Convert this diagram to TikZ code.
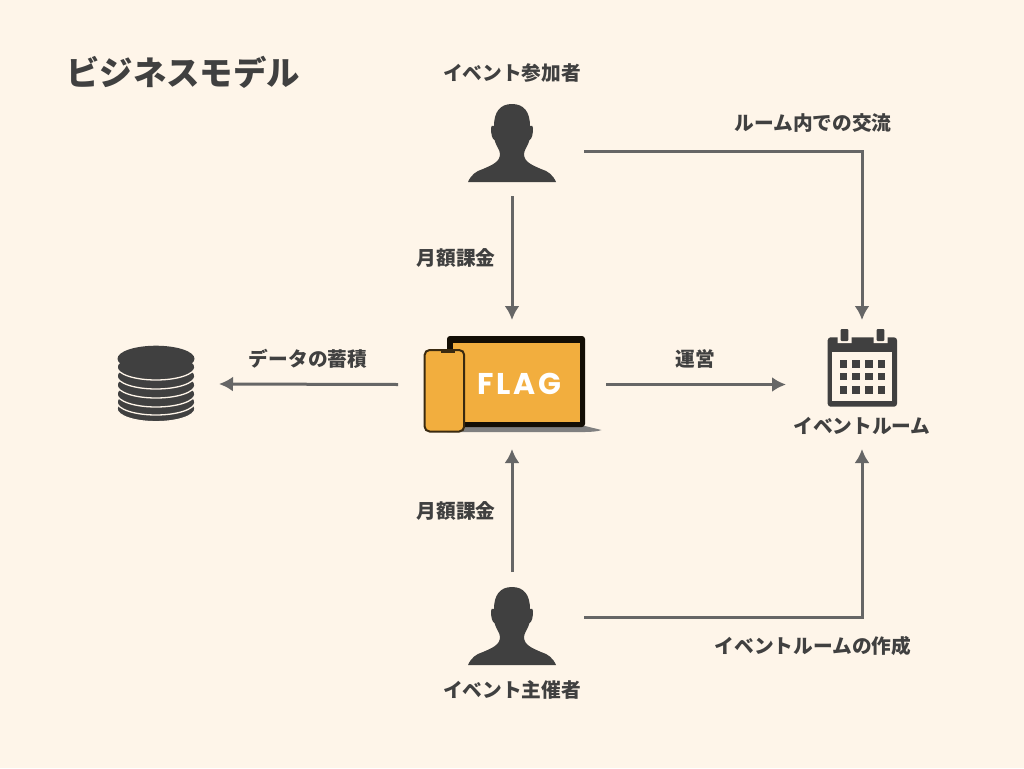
\documentclass[tikz,border=0pt]{standalone}
\usepackage{fontspec}
\setmainfont{Noto Sans CJK JP}
\newfontfamily\flagfont[LetterSpace=10]{Poppins}
\usetikzlibrary{arrows.meta}
\definecolor{paper}{HTML}{FEF5E9}
\definecolor{ink}{HTML}{404040}
\definecolor{wire}{HTML}{666666}
\definecolor{screen}{HTML}{F2AE3E}
\definecolor{phoneedge}{HTML}{3A2A10}

\begin{document}
\begin{tikzpicture}[x=1pt,y=-1pt,
    label/.style ={text=ink, font=\fontsize{19.7}{22}\selectfont\bfseries, inner sep=0pt},
    title/.style ={text=ink, font=\fontsize{33.4}{38}\selectfont\bfseries, inner sep=0pt, anchor=west},
    slot/.style ={minimum width=#1, inner sep=0pt, outer sep=0pt},
    flow/.style ={draw=wire, line width=3pt, -{Latex[length=14pt,width=15pt]}},
    person/.pic ={
      \fill[ink] (0,0) .. controls (12,0) and (18,8) .. (18,22)
        .. controls (20,21) and (21,22) .. (21,24)
        .. controls (21,30) and (20,35) .. (17.5,36)
        .. controls (16,42) and (12,46) .. (12,50)
        .. controls (12,58) and (20,61) .. (29,65)
        .. controls (36,67) and (41,71) .. (44,78)
        -- (-44,78)
        .. controls (-41,71) and (-36,67) .. (-29,65)
        .. controls (-20,61) and (-12,58) .. (-12,50)
        .. controls (-12,46) and (-16,42) .. (-17.5,36)
        .. controls (-20,35) and (-21,30) .. (-21,24)
        .. controls (-21,22) and (-20,21) .. (-18,22)
        .. controls (-18,8) and (-12,0) .. (0,0) -- cycle;
    }]
   \useasboundingbox (0,0) rectangle (1024,768);
   \fill[paper] (0,0) rectangle (1024,768);

   \node[slot=144pt, minimum height=90pt] (sanka) at (512,151) {};
   \node[slot=144pt, minimum height=90pt] (shusai) at (512,617) {};
   \node[slot=208pt, minimum height=129pt] (flag) at (502,384.5) {};
   \node[slot=152pt, minimum height=129pt] (room) at (862,384.5) {};
   \node[slot=126pt, minimum height=80pt] (db) at (156,384) {};

   \pic at (512,104) {person};
   \pic at (512,587) {person};

   \fill[black!50] (447,426) -- (585,426) -- (601.5,430) .. controls (598,431.5) and (590,432) .. (585,432) -- (447,432) -- cycle;
   \fill[black!92!screen, rounded corners=3pt] (447,336) -- (585,336) -- (585,427) -- (447,427) -- cycle;
   \fill[screen] (452.7,342.7) rectangle (580,421.7);
   \fill[screen, draw=phoneedge, line width=2pt, rounded corners=5pt] (424.6,350) rectangle (464.2,431.5);
   \fill[phoneedge] (441,350) rectangle (455,352.5);
   \node[text=white, font=\flagfont\fontsize{30}{30}\selectfont\bfseries, inner sep=0pt] (flagtext) at (519.5,384) {FLAG};

   \fill[ink, rounded corners=3pt] (827.7,337.3) rectangle (897,406.7);
   \fill[paper] (837.5,335) rectangle (851.5,343) (873.5,335) rectangle (887.5,343);
   \fill[ink, rounded corners=1pt] (840.7,329) rectangle (848.3,341) (876.7,329) rectangle (884.3,341);
   \fill[paper] (832,352) rectangle (892,400.7);
   \foreach \y in {360,372.7,386}
     \foreach \x in {839.7,852.3,865,877.7}
       \fill[ink] (\x,\y) rectangle ++(7.5,7.5);

   \foreach \y in {408.7,402,394,385,376,367}
     \draw[paper, fill=ink, line width=1.3pt] (156,\y) ellipse [x radius=39pt, y radius=13pt];
   \fill[ink] (156,358.7) ellipse [x radius=38.5pt, y radius=13pt];

   \node[title] (heading) at (66,72.5) {ビジネスモデル};
   \node[label] (sankalabel) at (512,72.7) {イベント参加者};
   \node[label] (kouryu) at (813,122.7) {ルーム内での交流};
   \node[label] (kakin1) at (456,257.7) {月額課金};
   \node[label] (kakin2) at (456,510.7) {月額課金};
   \node[label] (chikuseki) at (308,358.7) {データの蓄積};
   \node[label] (unei) at (695,358.7) {運営};
   \node[label] (roomlabel) at (862,425.7) {イベントルーム};
   \node[label] (shusailabel) at (512,689.7) {イベント主催者};
   \node[label] (sakusei) at (813,645.7) {イベントルームの作成};

   \draw[flow] (sanka.east) -| (room.north);
   \draw[flow] (sanka.south) -- (sanka.south |- flag.north);
   \draw[flow] (flag.west) -- (db.east);
   \draw[flow] (flag.east) -- (room.west);
   \draw[flow] (shusai.north) -- (shusai.north |- flag.south);
   \draw[flow] (shusai.east) -| (room.south);
 \end{tikzpicture}
\end{document}
